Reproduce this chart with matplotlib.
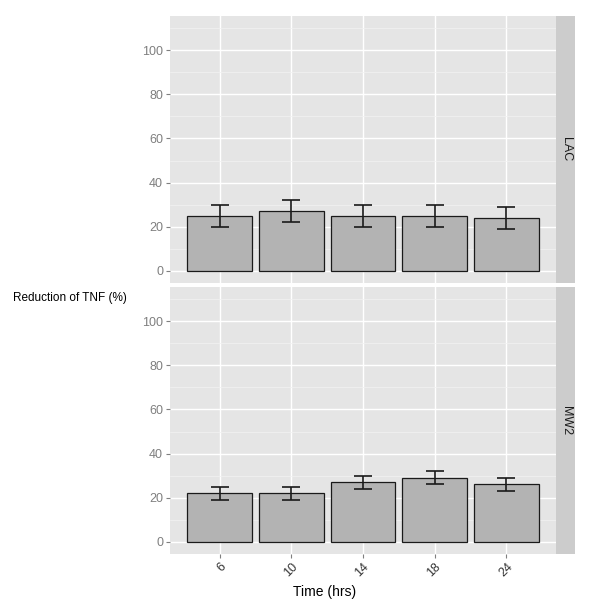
import matplotlib
matplotlib.use("Agg")
import matplotlib.pyplot as plt
import numpy as np

plt.rcParams['font.family'] = ['Liberation Sans', 'DejaVu Sans']

times = ["6", "10", "14", "18", "24"]
panels = ["LAC", "MW2"]
lac_mean = [25, 27, 25, 25, 24]
lac_err = [5, 5, 5, 5, 5]
mw2_mean = [22, 22, 27, 29, 26]
mw2_err = [3, 3, 3, 3, 3]

means = [lac_mean, mw2_mean]
errs = [lac_err, mw2_err]

W, H = 600, 610
fig = plt.figure(figsize=(W / 100, H / 100), dpi=100)

# panel boxes in pixels: (left, top, right, bottom)
px_left, px_right = 170, 556
panel_rows = [(16, 283), (287, 554)]
strip_w = 19

x = np.arange(1, len(times) + 1)
for k, (top, bot) in enumerate(panel_rows):
    ax = fig.add_axes([px_left / W, 1 - bot / H, (px_right - px_left) / W, (bot - top) / H])
    ax.set_facecolor('#E5E5E5')
    ax.bar(x, means[k], width=0.9, color='#B3B3B3', edgecolor='#1a1a1a', linewidth=0.9, zorder=3)
    ax.errorbar(x, means[k], yerr=errs[k], fmt='none', ecolor='#1a1a1a',
                elinewidth=1.2, capsize=6.5, capthick=1.2, zorder=4)
    ax.set_xlim(0.31, 5.69)
    ax.set_ylim(-5.5, 115.5)
    ax.set_yticks([0, 20, 40, 60, 80, 100])
    ax.set_yticks([10, 30, 50, 70, 90, 110], minor=True)
    ax.set_xticks(x)
    ax.grid(True, which='major', color='white', linewidth=1.0, zorder=0)
    ax.grid(True, which='minor', axis='y', color='#F2F2F2', linewidth=0.5, zorder=0)
    ax.set_axisbelow(True)
    for s in ax.spines.values():
        s.set_visible(False)
    ax.tick_params(axis='y', which='major', colors='#7F7F7F', labelsize=9, length=3, width=0.8, pad=2)
    ax.tick_params(axis='y', which='minor', length=0)
    if k == 1:
        ax.set_xticklabels(times)
        ax.tick_params(axis='x', colors='#7F7F7F', labelsize=9, length=3, width=0.8, pad=2)
        for lab in ax.get_xticklabels():
            lab.set_rotation(45)
            lab.set_ha('right')
            lab.set_va('top')
            lab.set_rotation_mode('anchor')
            lab.set_color('#333333')
    else:
        ax.tick_params(axis='x', length=0, labelbottom=False)
    for lab in ax.get_yticklabels():
        lab.set_color('#7F7F7F')

    # facet strip
    sax = fig.add_axes([px_right / W, 1 - bot / H, strip_w / W, (bot - top) / H])
    sax.set_facecolor('#CCCCCC')
    sax.set_xticks([])
    sax.set_yticks([])
    for s in sax.spines.values():
        s.set_visible(False)
    sax.text(0.5, 0.5, panels[k], rotation=-90, ha='center', va='center',
             fontsize=9, color='#1a1a1a', transform=sax.transAxes)

fig.text(13 / W, 1 - 298 / H, "Reduction of TNF (%)", ha='left', va='center', fontsize=8.5)
fig.text(325 / W, 1 - 592 / H, "Time (hrs)", ha='center', va='center', fontsize=10)

fig.savefig("out.png", dpi=100)
